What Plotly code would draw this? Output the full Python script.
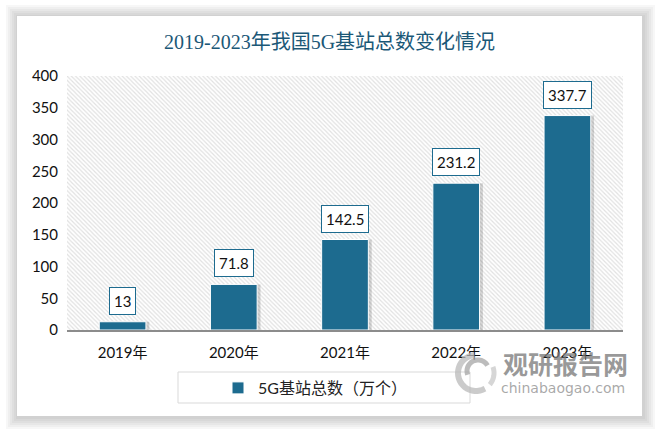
import math
import plotly.graph_objects as go

# ---- data ----
categories = ["2019年", "2020年", "2021年", "2022年", "2023年"]
values = [13, 71.8, 142.5, 231.2, 337.7]
value_labels = ["13", "71.8", "142.5", "231.2", "337.7"]
series_name = "5G基站总数（万个）"
title_text = "2019-2023年我国5G基站总数变化情况"
y_ticks = [0, 50, 100, 150, 200, 250, 300, 350, 400]

# ---- geometry helpers (pixel -> paper) ----
W, H = 659, 432
PL, PR, PT, PB = 67, 623, 76, 330


def px(x):
    return (x - PL) / (PR - PL)


def py(y):
    return (PB - y) / (PB - PT)


def arc_path(cx, cy, r, a0, a1, n=24):
    pts = []
    for i in range(n + 1):
        a = math.radians(a0 + (a1 - a0) * i / n)
        pts.append((px(cx + r * math.cos(a)), py(cy - r * math.sin(a))))
    return "M " + " L ".join(f"{x:.4f},{y:.4f}" for x, y in pts)


BAR_COLOR = "#1d6b8f"
FONT = "Lato, 'Noto Sans CJK SC', sans-serif"

fig = go.Figure()

# hatched plot background on hidden main axes
fig.add_trace(go.Scatter(
    x=[0, 1, 1, 0, 0], y=[0, 0, 1, 1, 0], mode="lines",
    line=dict(width=0), fill="toself", fillcolor="white",
    fillpattern=dict(shape="\\", fgcolor="#c4c4c4", bgcolor="white", size=3, solidity=0.4),
    hoverinfo="skip", showlegend=False, xaxis="x", yaxis="y",
))

# soft shadow for bars
fig.add_trace(go.Bar(
    x=categories, y=values, width=0.42, offset=-0.21 + 0.03,
    marker=dict(color="rgba(0,0,0,0.16)", line=dict(width=0)),
    hoverinfo="skip", showlegend=False, xaxis="x2", yaxis="y2",
))

# main bars
fig.add_trace(go.Bar(
    x=categories, y=values, width=0.42, offset=-0.21, name=series_name,
    marker=dict(color=BAR_COLOR, line=dict(color="white", width=1)),
    xaxis="x2", yaxis="y2",
))

# value label boxes
for c, v, t in zip(categories, values, value_labels):
    fig.add_annotation(
        x=c, y=v, xref="x2", yref="y2", text=t, showarrow=False,
        yanchor="bottom", yshift=7,
        font=dict(family=FONT, size=15, color="#111111"),
        bgcolor="white", bordercolor=BAR_COLOR, borderwidth=1, borderpad=4,
    )

shapes = []
# card shadow layers
for i in range(6, 0, -1):
    d = i * 2
    shapes.append(dict(
        type="rect", xref="paper", yref="paper", layer="below",
        x0=px(17 - d + 1), x1=px(642 + d + 1), y0=py(416 + d + 1), y1=py(16 - d + 1),
        fillcolor="rgba(0,0,0,0.03)", line=dict(width=0),
    ))
# white card
shapes.append(dict(
    type="rect", xref="paper", yref="paper", layer="below",
    x0=px(17), x1=px(642), y0=py(416), y1=py(16),
    fillcolor="white", line=dict(width=0),
))
# legend frame
shapes.append(dict(
    type="rect", xref="paper", yref="paper",
    x0=px(178), x1=px(470), y0=py(403), y1=py(372),
    fillcolor="rgba(0,0,0,0)", line=dict(color="#d9d9d9", width=1),
))
# watermark logo swirl (approximate)
shapes.append(dict(type="path", xref="paper", yref="paper",
                   path=arc_path(476, 373, 18, 95, 300),
                   line=dict(color="rgba(185,185,185,0.75)", width=6)))
shapes.append(dict(type="path", xref="paper", yref="paper",
                   path=arc_path(478, 371, 11, 30, 200),
                   line=dict(color="rgba(165,165,165,0.75)", width=5)))
shapes.append(dict(type="path", xref="paper", yref="paper",
                   path=arc_path(476, 373, 18, 320, 380),
                   line=dict(color="rgba(200,200,200,0.75)", width=5)))

# title
fig.add_annotation(
    x=px(329), y=py(42), xref="paper", yref="paper", text=title_text,
    showarrow=False, xanchor="center", yanchor="middle",
    font=dict(family="'Liberation Serif', 'Noto Sans CJK SC', serif", size=20, color="#1b5877"),
)

# watermark
fig.add_annotation(
    x=px(565), y=py(363), xref="paper", yref="paper", text="<b>观研报告网</b>",
    showarrow=False, xanchor="center", yanchor="middle",
    font=dict(family="'Noto Sans CJK SC', sans-serif", size=25, color="rgba(120,120,120,0.75)"),
)
fig.add_annotation(
    x=px(563), y=py(388), xref="paper", yref="paper", text="chinabaogao.com",
    showarrow=False, xanchor="center", yanchor="middle",
    font=dict(family="'DejaVu Sans', sans-serif", size=14, color="rgba(140,140,140,0.75)"),
)

fig.update_layout(
    width=W, height=H,
    margin=dict(l=PL, r=W - PR, t=PT, b=H - PB, pad=0),
    paper_bgcolor="white", plot_bgcolor="rgba(0,0,0,0)",
    barmode="overlay",
    shapes=shapes,
    showlegend=True,
    legend=dict(
        orientation="h", x=px(315), xanchor="center", y=py(388), yanchor="middle",
        font=dict(family=FONT, size=16, color="#222222"),
        bgcolor="rgba(0,0,0,0)", borderwidth=0,
    ),
    xaxis=dict(range=[0, 1], visible=False, fixedrange=True),
    yaxis=dict(range=[0, 1], visible=False, fixedrange=True),
    xaxis2=dict(
        overlaying="x", type="category", categoryorder="array", categoryarray=categories,
        range=[-0.5, 4.5], showgrid=False, showline=True, linecolor="#8c8c8c", linewidth=1.5,
        ticks="", tickfont=dict(family=FONT, size=15, color="#111111"),
        ticklabelstandoff=8, zeroline=False, fixedrange=True,
    ),
    yaxis2=dict(
        overlaying="y", side="left", range=[0, 400], tickvals=y_ticks,
        showgrid=False, showline=False, zeroline=False, ticks="",
        tickfont=dict(family=FONT, size=15, color="#111111"),
        ticklabelstandoff=8, fixedrange=True,
    ),
)

fig.write_html(
    "out.html",
    config={"displayModeBar": False},
    post_script="document.body.style.margin='0';document.body.style.overflow='hidden';",
)
